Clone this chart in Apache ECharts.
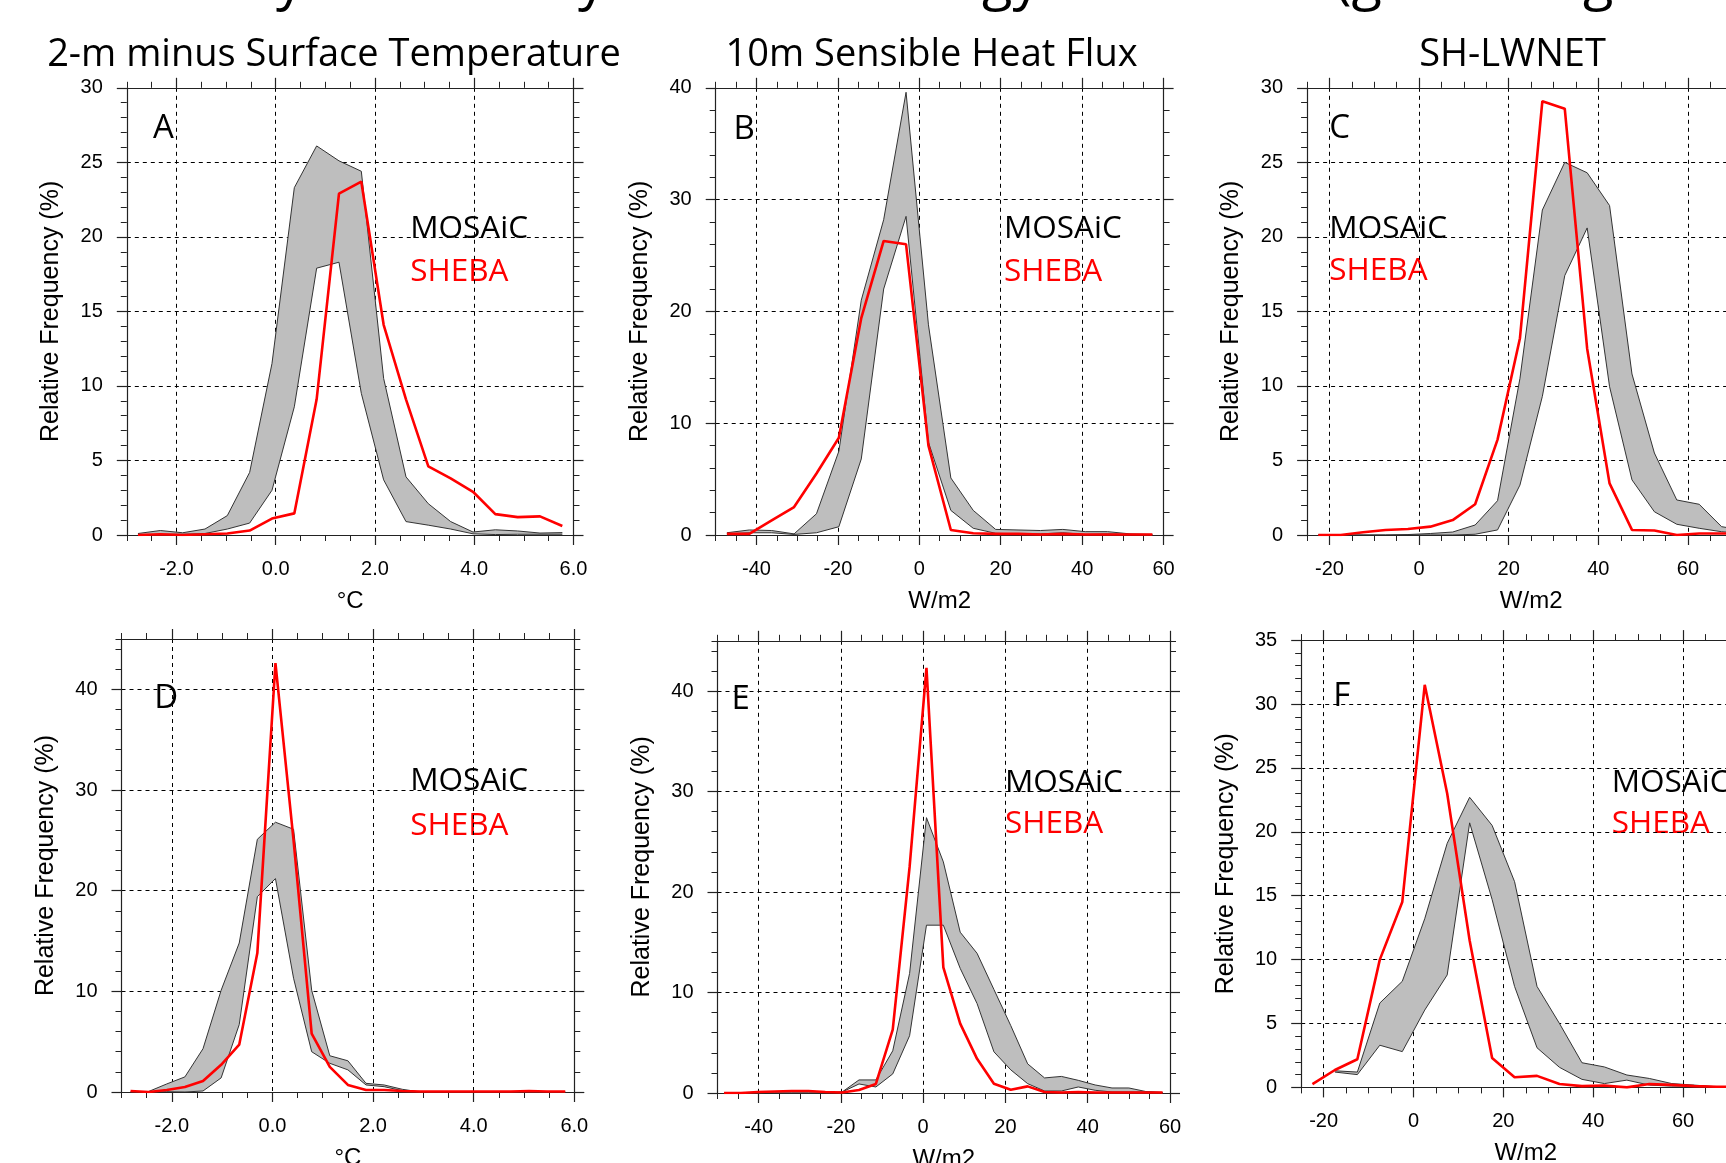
<!DOCTYPE html>
<html><head><meta charset="utf-8">
<script src="https://cdn.jsdelivr.net/npm/echarts@6/dist/echarts.min.js"></script>
<style>html,body{margin:0;padding:0;background:#fff;}#c{width:1726px;height:1163px;}</style>
</head><body><div id="c"></div>
<script>
// ---------- DATA ----------
// bin centres
const xA = [-2.775,-2.325,-1.875,-1.425,-0.975,-0.525,-0.075,0.375,0.825,1.275,1.725,2.175,2.625,3.075,3.525,3.975,4.425,4.875,5.325,5.775];
const xB = [-47.25,-41.75,-36.25,-30.75,-25.25,-19.75,-14.25,-8.75,-3.25,2.25,7.75,13.25,18.75,24.25,29.75,35.25,40.75,46.25,51.75,57.25];
const xC = [-22.5,-17.5,-12.5,-7.5,-2.5,2.5,7.5,12.5,17.5,22.5,27.5,32.5,37.5,42.5,47.5,52.5,57.5,62.5,67.5,72.5];
const xD = [-2.82,-2.46,-2.10,-1.74,-1.38,-1.02,-0.66,-0.30,0.06,0.42,0.78,1.14,1.50,1.86,2.22,2.58,2.94,3.30,3.66,4.02,4.38,4.74,5.10,5.46,5.82];
const xE = [-48.4,-44.3,-40.2,-36.1,-32.0,-27.9,-23.8,-19.7,-15.6,-11.5,-7.4,-3.3,0.8,4.9,9.0,13.1,17.2,21.3,25.4,29.5,33.6,37.7,41.8,45.9,50.0,54.1,58.2];
const xF = [-22.5,-17.5,-12.5,-7.5,-2.5,2.5,7.5,12.5,17.5,22.5,27.5,32.5,37.5,42.5,47.5,52.5,57.5,62.5,67.5,72.5];

// MOSAiC envelope (upper / lower) and SHEBA line, relative frequency (%)
const aMax   = [0.1,0.3,0.15,0.4,1.3,4.2,11.5,23.3,26.1,25.1,24.4,10.5,3.9,2.1,0.9,0.2,0.35,0.27,0.13,0.16];
const aMin   = [0,0.05,0.05,0.1,0.4,0.8,3.0,8.6,17.9,18.3,9.5,3.7,0.9,0.66,0.4,0.08,0.03,0.05,0.05,0.05];
const aSheba = [0,0.05,0,0.05,0.1,0.3,1.1,1.45,9.1,22.9,23.7,14.1,9.1,4.6,3.8,2.9,1.4,1.2,1.25,0.6];

const bMax   = [0.2,0.45,0.4,0.1,1.9,7.5,21,28.2,39.6,18.8,5.1,2.2,0.5,0.45,0.4,0.5,0.3,0.3,0.1,0.05];
const bMin   = [0.1,0.2,0.2,0.05,0.2,0.74,6.8,22,28.5,8.3,2.2,0.6,0.15,0.1,0.1,0.2,0.05,0.1,0.05,0];
const bSheba = [0.1,0.1,1.3,2.5,5.5,8.7,19.4,26.3,26.0,8.0,0.45,0.15,0.1,0.1,0.05,0.1,0.05,0.05,0.05,0.05];

const cMax   = [0,0,0,0,0.03,0.1,0.2,0.67,2.3,10.5,21.8,25.0,24.3,22.1,10.8,5.5,2.35,2.06,0.56,0.3];
const cMin   = [0,0,0,0,0,0,0,0.05,0.34,3.35,9.3,17.4,20.6,9.95,3.7,1.56,0.72,0.45,0.22,0.1];
const cSheba = [0,0,0.18,0.34,0.4,0.56,1.0,2.06,6.4,13.2,29.1,28.6,12.5,3.46,0.34,0.3,0,0.1,0.1,0.1];

const dMax   = [0,0.05,0.8,1.5,4.3,10.1,14.8,25.1,26.8,26.1,10.1,3.6,3.1,0.86,0.7,0.27,0,0,0,0,0,0,0,0,0];
const dMin   = [0,0,0.03,0,0.1,1.4,6.7,19.4,21.2,11.3,4.0,2.85,2.2,0.7,0.53,0.13,0,0,0,0,0,0,0,0,0];
const dSheba = [0.1,0,0.2,0.5,1.1,2.7,4.7,13.8,42.6,25.0,5.8,2.5,0.7,0.2,0.2,0.1,0.05,0.05,0.05,0.05,0.05,0.05,0.1,0.05,0.05];

const eMax   = [0,0,0,0,0,0,0,0.1,1.3,1.3,4.2,11.9,27.4,23.0,16.0,13.9,10.3,6.7,2.9,1.5,1.65,1.26,0.8,0.5,0.5,0.15,0.05];
const eMin   = [0,0,0,0,0,0,0,0.1,0.9,0.6,1.9,5.7,16.7,16.7,12.4,8.9,4.1,2.3,0.93,0.2,0.2,0.6,0.27,0.1,0.1,0.1,0.05];
const eSheba = [0,0,0.1,0.15,0.2,0.2,0.1,0.05,0.3,0.9,6.3,22.5,42.3,12.5,6.9,3.4,0.93,0.33,0.66,0.1,0.05,0.1,0.05,0.05,0.05,0.05,0.05];

const fMax   = [null,1.3,1.2,6.6,8.3,13.2,19.1,22.7,20.5,16.1,7.9,5.0,1.93,1.6,0.97,0.7,0.3,0.18,0.05,0.05];
const fMin   = [null,1.2,1.0,3.3,2.8,6.05,8.8,20.7,14.7,7.9,3.1,1.57,0.63,0.3,0.57,0.18,0.1,0.1,0.05,0.05];
const fSheba = [0.26,1.36,2.2,10.0,14.5,31.5,23.0,11.5,2.3,0.8,0.9,0.26,0.1,0.15,0,0.26,0.2,0.1,0.05,0.05];

// tick labels
const ticksTemp = [-2, 0, 2, 4, 6];
const ticksSH = [-40, -20, 0, 20, 40, 60];
const ticksNet = [-20, 0, 20, 40, 60];
const yTicks30 = [0, 5, 10, 15, 20, 25, 30];
const yTicks40 = [0, 10, 20, 30, 40];
const yTicks35 = [0, 5, 10, 15, 20, 25, 30, 35];

const titles = ['2-m minus Surface Temperature', '10m Sensible Heat Flux', 'SH-LWNET'];
const seriesNames = ['MOSAiC', 'SHEBA'];
const yName = 'Relative Frequency (%)';
const titleFragments = ['y', 'y', 'gy', '(g', 'g'];

// ---------- LAYOUT ----------
const panels = [
  {L:'A', xs:xA, hi:aMax, lo:aMin, red:aSheba, xMin:-3, xMax:6, xMaj:ticksTemp, xMinor:0.5, yMax:30, yMaj:yTicks30, yMinor:1, dec:1, unit:'°C',
   rect:{left:126.8, top:87.8, width:446.7, height:447.2}, title:titles[0], tx:334, letter:[153,138.4], leg:[410.2,238.4,280.7]},
  {L:'B', xs:xB, hi:bMax, lo:bMin, red:bSheba, xMin:-50, xMax:60, xMaj:ticksSH, xMinor:5, yMax:40, yMaj:yTicks40, yMinor:2, dec:0, unit:'W/m2',
   rect:{left:715.7, top:87.8, width:447.9, height:447.2}, title:titles[1], tx:931.6, letter:[733.6,139.2], leg:[1003.9,238.4,280.7]},
  {L:'C', xs:xC, hi:cMax, lo:cMin, red:cSheba, xMin:-25, xMax:75, xMaj:ticksNet, xMinor:5, yMax:30, yMaj:yTicks30, yMinor:1, dec:0, unit:'W/m2',
   rect:{left:1307.1, top:87.8, width:448.1, height:447.2}, title:titles[2], tx:1512.5, letter:[1329.3,138.4], leg:[1329.3,238.3,280]},
  {L:'D', xs:xD, hi:dMax, lo:dMin, red:dSheba, xMin:-3, xMax:6, xMaj:ticksTemp, xMinor:0.5, yMax:45, yMaj:yTicks40, yMinor:2, dec:1, unit:'°C',
   rect:{left:121.5, top:639, width:452.8, height:453}, letter:[154.3,708.6], leg:[410.2,790.4,834.7]},
  {L:'E', xs:xE, hi:eMax, lo:eMin, red:eSheba, xMin:-50, xMax:60, xMaj:ticksSH, xMinor:5, yMax:45, yMaj:yTicks40, yMinor:2, dec:0, unit:'W/m2',
   rect:{left:717.5, top:640.8, width:452.5, height:452.2}, letter:[731.4,709.3], leg:[1005,791.7,833.3]},
  {L:'F', xs:xF, hi:fMax, lo:fMin, red:fSheba, xMin:-25, xMax:75, xMaj:ticksNet, xMinor:5, yMax:35, yMaj:yTicks35, yMinor:1, dec:0, unit:'W/m2',
   rect:{left:1301.2, top:640.1, width:449.2, height:447.3}, letter:[1333.3,706.7], leg:[1611.7,791.7,833.3]}
];

const LBL = 'Liberation Sans';
const TXT = 'Open Sans';
const frameColor = '#222';

const option = {
  animation:false, backgroundColor:'#ffffff',
  grid:[], xAxis:[], yAxis:[], series:[], graphic:{elements:[]}
};

function axisBase(extra){ return Object.assign({type:'value', axisLabel:{show:false}, splitLine:{show:false}, axisLine:{show:false, onZero:false}}, extra); }

panels.forEach((p, i) => {
  const gMain = option.grid.length;
  const gridOpt = Object.assign({containLabel:false, outerBoundsMode:'none'}, p.rect);
  option.grid.push(Object.assign({}, gridOpt));
  option.grid.push(Object.assign({}, gridOpt));
  const gMin = gMain + 1;
  const line = {show:true, onZero:false, lineStyle:{color:frameColor, width:1.2}};
  const maj = vals => ({show:true, length:10, customValues:vals, lineStyle:{color:frameColor, width:1.2}});
  const mnr = {show:true, length:6, lineStyle:{color:frameColor, width:1}};
  const split = {show:true, lineStyle:{color:'#000', width:1, type:[4,4]}};
  const lab = (vals, fmt) => ({show:true, customValues:vals, formatter:fmt, fontFamily:LBL, fontSize:20, color:'#000', margin:24});

  const xi = option.xAxis.length;
  option.xAxis.push(axisBase({gridIndex:gMain, position:'bottom', min:p.xMin, max:p.xMax, interval:p.xMinor,
    axisLine:line, axisTick:maj(p.xMaj), axisLabel:lab(p.xMaj, v => p.dec ? Number(v).toFixed(p.dec) : String(v)), splitLine:split,
    name:p.unit, nameLocation:'middle', nameGap:54, nameTextStyle:{fontFamily:LBL, fontSize:24, color:'#000'}}));
  option.xAxis.push(axisBase({gridIndex:gMain, position:'top', min:p.xMin, max:p.xMax, interval:p.xMinor, axisLine:line, axisTick:maj(p.xMaj)}));
  option.xAxis.push(axisBase({gridIndex:gMin, position:'bottom', min:p.xMin, max:p.xMax, interval:p.xMinor, axisTick:mnr}));
  option.xAxis.push(axisBase({gridIndex:gMin, position:'top', min:p.xMin, max:p.xMax, interval:p.xMinor, axisTick:mnr}));

  const yi = option.yAxis.length;
  option.yAxis.push(axisBase({gridIndex:gMain, position:'left', min:0, max:p.yMax, interval:p.yMinor,
    axisLine:line, axisTick:maj(p.yMaj), axisLabel:lab(p.yMaj, v => String(v)), splitLine:split,
    name:yName, nameLocation:'middle', nameGap:63, nameTextStyle:{fontFamily:LBL, fontSize:25, color:'#000'}}));
  option.yAxis.push(axisBase({gridIndex:gMain, position:'right', min:0, max:p.yMax, interval:p.yMinor, axisLine:line, axisTick:maj(p.yMaj)}));
  option.yAxis.push(axisBase({gridIndex:gMin, position:'left', min:0, max:p.yMax, interval:p.yMinor, axisTick:mnr}));
  option.yAxis.push(axisBase({gridIndex:gMin, position:'right', min:0, max:p.yMax, interval:p.yMinor, axisTick:mnr}));

  // MOSAiC envelope polygon
  const valid = p.xs.map((x,j) => j).filter(j => p.hi[j] != null && p.lo[j] != null);
  const f0 = valid[0];
  option.series.push({
    type:'custom', xAxisIndex:xi, yAxisIndex:yi, silent:true, z:2,
    data:[[p.xs[f0], p.lo[f0], p.hi[f0]]],
    renderItem:(params, api) => {
      const top = valid.map(j => api.coord([p.xs[j], p.hi[j]]));
      const bot = valid.map(j => api.coord([p.xs[j], p.lo[j]])).reverse();
      return {type:'polygon', shape:{points:top.concat(bot)}, style:{fill:'#bebebe', stroke:null}};
    }
  });
  [p.hi, p.lo].forEach(arr => option.series.push({
    type:'line', xAxisIndex:xi, yAxisIndex:yi, silent:true, z:3, symbol:'none', showSymbol:false,
    data:p.xs.map((x,j) => [x, arr[j]]), lineStyle:{color:'#333', width:1}
  }));
  option.series.push({
    type:'line', name:seriesNames[1], xAxisIndex:xi, yAxisIndex:yi, silent:true, z:4, symbol:'none', showSymbol:false,
    data:p.xs.map((x,j) => [x, p.red[j]]), lineStyle:{color:'#ff0000', width:2.6}
  });

  // texts
  const els = option.graphic.elements;
  if (p.title) els.push({type:'text', x:p.tx, y:66 - 11, silent:true, style:{text:p.title, font:'38px "' + TXT + '"', fill:'#000', textAlign:'center', textVerticalAlign:'middle'}});
  els.push({type:'text', x:p.letter[0], y:p.letter[1] - 10, silent:true, style:{text:p.L, font:'33px "' + TXT + '"', fill:'#000', textAlign:'left', textVerticalAlign:'middle'}});
  els.push({type:'text', x:p.leg[0], y:p.leg[1] - 9, silent:true, style:{text:seriesNames[0], font:'31.5px "' + TXT + '"', fill:'#000', textAlign:'left', textVerticalAlign:'middle'}});
  els.push({type:'text', x:p.leg[0], y:p.leg[2] - 9, silent:true, style:{text:seriesNames[1], font:'31.5px "' + TXT + '"', fill:'#ff0000', textAlign:'left', textVerticalAlign:'middle'}});
});

// clipped main title (only descenders visible)
const fragX = [276, 578, 982, 1335, 1583];
titleFragments.forEach((t, k) => option.graphic.elements.push({type:'text', x:fragX[k], y:-18, silent:true,
  style:{text:t, font:'56px "' + TXT + '"', fill:'#000', textAlign:'left', textVerticalAlign:'middle'}}));

const chart = echarts.init(document.getElementById('c'), null, {renderer:'canvas', width:1726, height:1163});
chart.setOption(option);
</script>
</body></html>
